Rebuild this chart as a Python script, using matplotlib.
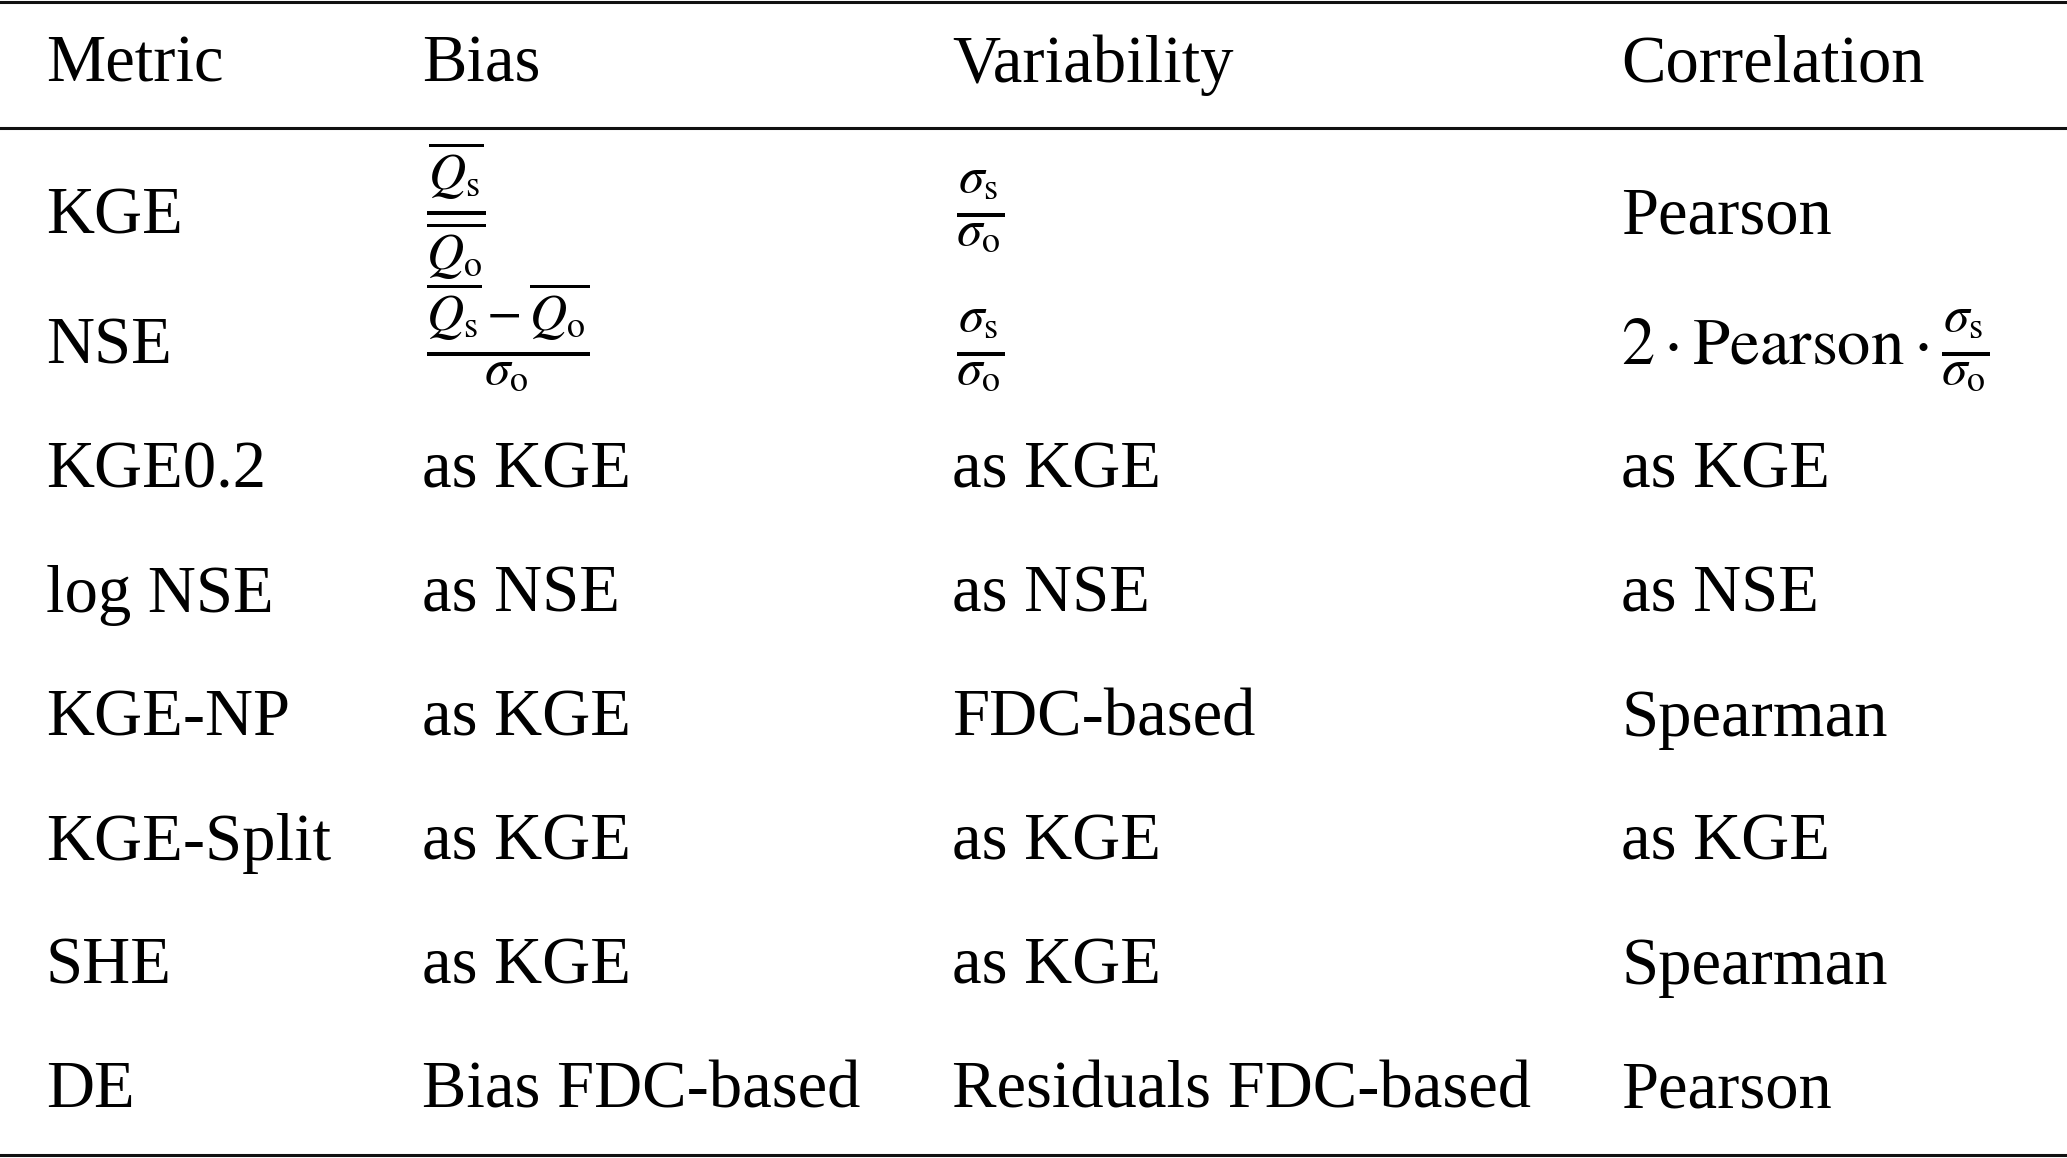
import matplotlib
matplotlib.use('Agg')
import matplotlib.pyplot as plt

plt.rcParams['font.family'] = ['Liberation Serif', 'DejaVu Serif']
plt.rcParams['mathtext.fontset'] = 'stix'

# table content
ratio = r'$\frac{\sigma_\mathrm{s}}{\sigma_\mathrm{o}}$'
headers = ['Metric', 'Bias', 'Variability', 'Correlation']
metrics = ['KGE', 'NSE', 'KGE0.2', 'log NSE', 'KGE-NP', 'KGE-Split', 'SHE', 'DE']
bias = [r'$\frac{\overline{Q_\mathrm{s}}}{\overline{Q_\mathrm{o}}}$',
        r'$\frac{\overline{Q_\mathrm{s}}-\overline{Q_\mathrm{o}}}{\sigma_\mathrm{o}}$',
        'as KGE', 'as NSE', 'as KGE', 'as KGE', 'as KGE', 'Bias FDC-based']
variability = [ratio, ratio, 'as KGE', 'as NSE', 'FDC-based', 'as KGE', 'as KGE',
               'Residuals FDC-based']
# NSE correlation is "2 · Pearson · ratio", the ratio part is drawn separately
correlation = ['Pearson', r'$2\cdot\mathrm{Pearson}\cdot$', 'as KGE', 'as NSE',
               'Spearman', 'as KGE', 'Spearman', 'Pearson']

# layout in pixels
W, H = 2067, 1158
col_x = [46, 422, 952, 1621]
header_y = 82
row_y = [233, 363, 488, 612, 736, 860, 984, 1107]
math_shift = [-5, 4, 0, 0, 0, 0, 0, 0]  # keep the stacked fractions apart
fs = 48
fs_math = 53

fig = plt.figure(figsize=(W / 100, H / 100), dpi=100)
ax = fig.add_axes([0, 0, 1, 1])
ax.set_xlim(0, W)
ax.set_ylim(H, 0)
ax.axis('off')

for x, h in zip(col_x, headers):
    ax.text(x, header_y, h, fontsize=fs, ha='left', va='baseline')

lead = None
columns = [metrics, bias, variability, correlation]
for x, col in zip(col_x, columns):
    for y, dy, cell in zip(row_y, math_shift, col):
        if '\\frac' in cell:
            ax.text(x + 4, y + dy, cell, fontsize=fs_math, ha='left', va='baseline')
        else:
            t = ax.text(x, y, cell, fontsize=fs, ha='left', va='baseline')
            if cell == correlation[1]:
                lead = t

# trailing ratio after "2 · Pearson ·"
ax.annotate(ratio, xy=(1, row_y[1] + math_shift[1]), xycoords=(lead, 'data'),
            xytext=(9, 0), textcoords='offset points',
            fontsize=fs_math, ha='left', va='baseline')

# booktabs style rules
for y in [2, 128, 1155]:
    ax.axhline(y, color='#111111', lw=2.2)

fig.savefig('out.png', dpi=100, facecolor='white')
